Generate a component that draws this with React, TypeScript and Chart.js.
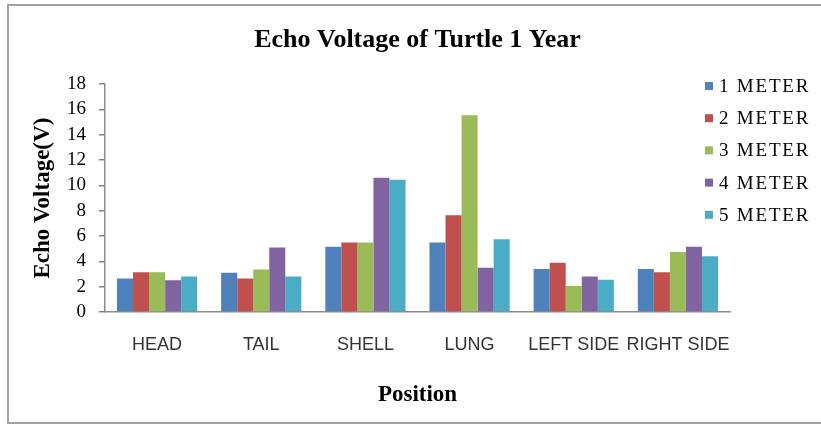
import React, { useEffect, useRef } from "react";
import { Chart, registerables } from "chart.js";

Chart.register(...registerables);

const categories = ["HEAD", "TAIL", "SHELL", "LUNG", "LEFT SIDE", "RIGHT SIDE"];
const seriesNames = ["1 METER", "2 METER", "3 METER", "4 METER", "5 METER"];
const meter1 = [2.65, 3.1, 5.15, 5.5, 3.4, 3.4];
const meter2 = [3.15, 2.65, 5.5, 7.65, 3.9, 3.15];
const meter3 = [3.15, 3.35, 5.5, 15.55, 2.05, 4.75];
const meter4 = [2.5, 5.1, 10.6, 3.5, 2.8, 5.15];
const meter5 = [2.8, 2.8, 10.45, 5.75, 2.55, 4.4];
const seriesValues = [meter1, meter2, meter3, meter4, meter5];
const colors = ["#4F81BD", "#C0504D", "#9BBB59", "#8064A2", "#4BACC6"];
const yMin = 0;
const yMax = 18;
const yStep = 2;

const SERIF = "'Liberation Serif', 'Times New Roman', serif";
const SANS = "'Liberation Sans', Arial, sans-serif";

const sideLegend = {
  id: "sideLegend",
  afterDraw(chart: any) {
    const ctx = chart.ctx as CanvasRenderingContext2D;
    ctx.save();
    ctx.font = `19px ${SERIF}`;
    (ctx as any).letterSpacing = "1.8px";
    ctx.textBaseline = "middle";
    ctx.textAlign = "left";
    chart.data.datasets.forEach((ds: any, i: number) => {
      const y = 86 + i * 32.2;
      ctx.fillStyle = ds.backgroundColor;
      ctx.fillRect(705, y - 4, 8, 8);
      ctx.fillStyle = "#000";
      ctx.fillText(ds.label, 719, y + 1);
    });
    ctx.restore();
  },
};

export default function App() {
  const canvasRef = useRef<HTMLCanvasElement | null>(null);

  useEffect(() => {
    if (!canvasRef.current) return;
    const chart = new Chart(canvasRef.current, {
      type: "bar",
      data: {
        labels: categories,
        datasets: seriesNames.map((name, i) => ({
          label: name,
          data: seriesValues[i],
          backgroundColor: colors[i],
          borderWidth: 0,
          categoryPercentage: 0.77,
          barPercentage: 1.0,
        })),
      },
      options: {
        responsive: false,
        animation: false,
        layout: { padding: { left: 0, right: 91, top: 0, bottom: 0 } },
        plugins: {
          legend: { display: false },
          tooltip: { enabled: false },
          title: {
            display: true,
            text: "Echo Voltage of Turtle 1 Year",
            color: "#000",
            font: { family: SERIF, size: 26, weight: "bold" },
            padding: { top: 25, bottom: 28 },
            fullSize: false,
          },
        },
        scales: {
          x: {
            grid: { display: false, drawTicks: false },
            border: { display: true, color: "#8c8c8c", width: 1.5 },
            ticks: {
              font: { family: SANS, size: 18 },
              color: "#333",
              padding: 22,
              maxRotation: 0,
              autoSkip: false,
            },
            title: {
              display: true,
              text: "Position",
              color: "#000",
              font: { family: SERIF, size: 23, weight: "bold" },
              padding: { top: 0, bottom: 16 },
            },
            afterFit: (s: any) => {
              s.height = 113;
            },
          },
          y: {
            min: yMin,
            max: yMax,
            ticks: {
              stepSize: yStep,
              autoSkip: false,
              font: { family: SERIF, size: 19 },
              color: "#000",
              padding: 13,
            },
            grid: {
              display: true,
              drawOnChartArea: false,
              drawTicks: true,
              tickLength: 6,
              color: "#808080",
              lineWidth: 1.5,
            },
            border: { display: true, color: "#8c8c8c", width: 1.5 },
            title: {
              display: true,
              text: "Echo Voltage(V)",
              color: "#000",
              font: { family: SERIF, size: 23, weight: "bold" },
              padding: { top: 29, bottom: 0 },
            },
            afterFit: (s: any) => {
              s.width = 105;
            },
          },
        },
      },
      plugins: [sideLegend],
    } as any);
    return () => chart.destroy();
  }, []);

  return (
    <div
      style={{
        position: "fixed",
        left: 0,
        top: 0,
        width: 821,
        height: 425,
        overflow: "hidden",
        background: "#fff",
      }}
    >
      <div
        style={{
          position: "absolute",
          left: 7,
          top: 4,
          width: 900,
          height: 416,
          border: "2px solid #a0a0a0",
        }}
      />
      <canvas
        ref={canvasRef}
        width={821}
        height={425}
        style={{ position: "absolute", left: 0, top: 0 }}
      />
    </div>
  );
}
